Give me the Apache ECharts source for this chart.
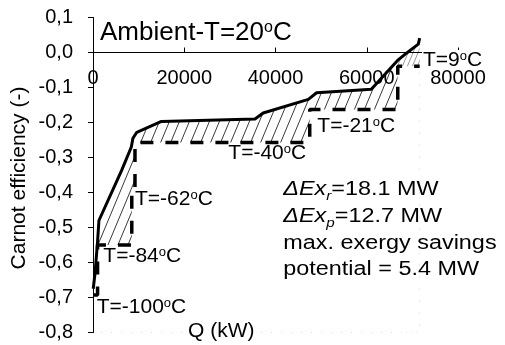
<!DOCTYPE html>
<html><head><meta charset="utf-8">
<script src="https://cdn.jsdelivr.net/npm/echarts@6/dist/echarts.min.js"></script>
<style>html,body{margin:0;padding:0;background:#fff}#c{width:505px;height:345px}</style>
</head><body><div id="c"></div>
<script>
// ---- data ----
const xTicks = [0, 20000, 40000, 60000, 80000];
const yTicks = [0.1, 0.0, -0.1, -0.2, -0.3, -0.4, -0.5, -0.6, -0.7, -0.8];
// solid curve (Q in kW, Carnot efficiency)
const solidQ   = [50, 450, 1000, 1300, 6300, 8400, 8750, 9600, 15000, 35500, 37300, 47200, 49000, 58500, 61000, 66900, 68700, 71300, 71600];
const solidEff = [-0.675, -0.63, -0.54, -0.48, -0.336, -0.27, -0.245, -0.228, -0.197, -0.19, -0.173, -0.134, -0.115, -0.107, -0.105, -0.021, -0.002, 0.024, 0.041];
// dashed curve (constant-temperature levels)
const dashedQ   = [0, 1000, 1000, 8500, 8500, 9200, 9200, 47500, 47500, 66800, 66800, 71600];
const dashedEff = [-0.693, -0.693, -0.55, -0.55, -0.388, -0.388, -0.257, -0.257, -0.163, -0.163, -0.039, -0.039];
// boundary where hatch turns grey (T=9 level)
const greyFromQ = 66800, greyFromEff = -0.023;
const tempLabels = ['T=-100', 'T=-84', 'T=-62', 'T=-40', 'T=-21', 'T=9'];
const titleText = 'Ambient-T=20';
const exergyLines = ['18.1 MW', '12.7 MW', 'max. exergy savings', 'potential = 5.4 MW'];
const yAxisName = 'Carnot efficiency (-)';
const xAxisName = 'Q (kW)';

const FONT = '"Liberation Sans", Arial, Helvetica, sans-serif';

function hatch(color, w, h, lw) {
  const c = document.createElement('canvas');
  c.width = w; c.height = h;
  const g = c.getContext('2d');
  g.strokeStyle = color; g.lineWidth = lw;
  g.beginPath();
  for (let k = -1; k <= 1; k++) { g.moveTo(k * w, h); g.lineTo(k * w + w, 0); }
  g.stroke();
  return c;
}

const solidPts = solidQ.map((q, i) => [q, solidEff[i]]);
const dashedPts = dashedQ.map((q, i) => [q, dashedEff[i]]);
const blackPart = solidPts.filter(p => p[0] < greyFromQ).concat([[greyFromQ, greyFromEff]]);
const greyPart = [[greyFromQ, greyFromEff]].concat(solidPts.filter(p => p[0] > greyFromQ));

const chart = echarts.init(document.getElementById('c'), null, {renderer: 'canvas'});

const supRich = { s: { fontSize: 13, fontFamily: FONT, verticalAlign: 'top', lineHeight: 13, fill: '#000' } };
function tLabel(txt, x, y) {
  return {
    type: 'text', x: x, y: y, z: 100,
    style: { text: txt + '{s|o}C', fontSize: 21, fontFamily: FONT, fill: '#000',
             textVerticalAlign: 'middle', rich: supRich }
  };
}
const labelPos = [[96.7, 307], [103.3, 256.5], [135, 199], [228.3, 153.7], [317.3, 126], [423, 60]];

const graphics = [
  { type: 'text', x: 100, y: 33, z: 100,
    style: { text: titleText + '{s|o}C', fontSize: 26, fontFamily: FONT, fill: '#000', textVerticalAlign: 'middle',
             rich: { s: { fontSize: 16, fontFamily: FONT, verticalAlign: 'top', lineHeight: 16 } } } },
  { type: 'rect', z: 99, shape: { x: 422, y: 50, width: 66, height: 20 }, style: { fill: '#fff' } }
];
tempLabels.forEach((t, i) => graphics.push(tLabel(t, labelPos[i][0], labelPos[i][1])));
graphics.push({
  type: 'text', x: 283.3, y: 176.3, z: 100, scaleX: 1.17,
  style: {
    text: '{i|ΔEx}{sub|r}=' + exergyLines[0] + '\n{i|ΔEx}{sub|p}=' + exergyLines[1] + '\n' + exergyLines[2] + '\n' + exergyLines[3],
    fontSize: 20, fontFamily: FONT, fill: '#000', lineHeight: 26.7, textVerticalAlign: 'top',
    rich: {
      i: { fontSize: 20, fontStyle: 'italic', fontFamily: FONT, lineHeight: 26.7 },
      sub: { fontSize: 13, fontStyle: 'italic', fontFamily: FONT, verticalAlign: 'bottom', lineHeight: 13 }
    }
  }
});
graphics.push({ type: 'text', x: 188, y: 331, z: 100,
  style: { text: xAxisName, fontSize: 21, fontFamily: FONT, fill: '#000', textVerticalAlign: 'middle' } });
graphics.push({ type: 'text', x: 19, y: 178, z: 100, rotation: Math.PI / 2,
  style: { text: yAxisName, fontSize: 21, fontFamily: FONT, fill: '#000', textAlign: 'center', textVerticalAlign: 'middle' } });

chart.setOption({
  animation: false,
  backgroundColor: '#fff',
  grid: { left: 93, right: 47, top: 17.5, bottom: 12.5, containLabel: false },
  xAxis: {
    type: 'value', min: xTicks[0], max: xTicks[xTicks.length - 1], interval: xTicks[1] - xTicks[0], z: 10,
    position: 'top', offset: -35,
    axisLine: { show: true, onZero: false, lineStyle: { color: '#000', width: 1 } },
    axisTick: { show: true, inside: false, length: 5, lineStyle: { color: '#000', width: 1 } },
    axisLabel: { inside: true, margin: 16, fontSize: 20, fontFamily: FONT, color: '#000',
      formatter: v => String(v) },
    splitLine: { show: false }
  },
  yAxis: {
    type: 'value', min: yTicks[yTicks.length - 1], max: yTicks[0], interval: 0.1, z: 10,
    axisLine: { show: true, onZero: false, lineStyle: { color: '#000', width: 1 } },
    axisTick: { show: true, inside: false, length: 5, lineStyle: { color: '#000' } },
    axisLabel: { margin: 20, fontSize: 20, fontFamily: FONT, color: '#000',
      formatter: v => (Math.round(v * 10) / 10).toFixed(1).replace('.', ',') },
    splitLine: { show: false }
  },
  series: [
    { type: 'line', data: blackPart, showSymbol: false, silent: true, z: 1,
      lineStyle: { width: 0, opacity: 0 },
      areaStyle: { origin: 'start', opacity: 1, color: { image: hatch('#222', 10, 24, 0.9), repeat: 'repeat' } } },
    { type: 'line', data: greyPart, showSymbol: false, silent: true, z: 1,
      lineStyle: { width: 0, opacity: 0 },
      areaStyle: { origin: 'start', opacity: 1, color: { image: hatch('#999', 5, 12, 1), repeat: 'repeat' } } },
    { type: 'line', data: dashedPts, showSymbol: false, silent: true, z: 2,
      lineStyle: { width: 0, opacity: 0 },
      areaStyle: { origin: 'start', opacity: 1, color: '#fff' } },
    { type: 'line', data: dashedPts, showSymbol: false, silent: true, z: 3,
      lineStyle: { width: 3.5, color: '#000', type: [13, 12], cap: 'butt' } },
    { type: 'line', data: solidPts, showSymbol: false, silent: true, z: 4,
      lineStyle: { width: 3, color: '#000', join: 'round' } }
  ],
  graphic: graphics
});
</script></body></html>
